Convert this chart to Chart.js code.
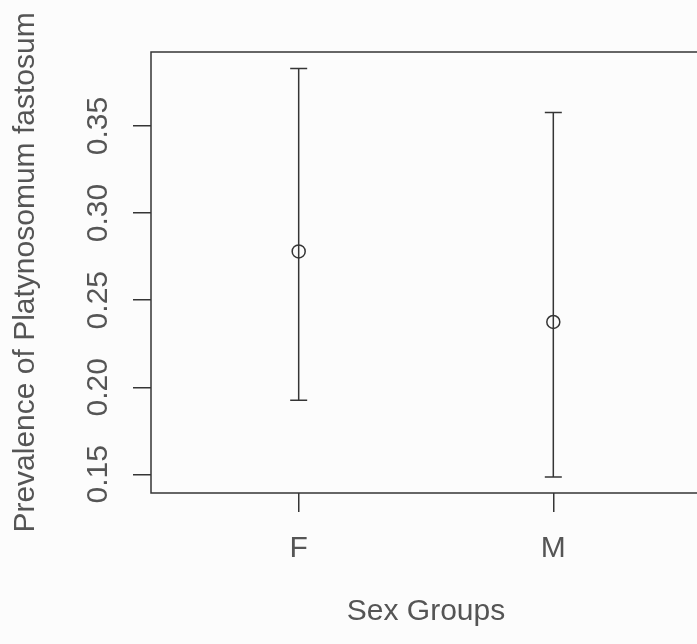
<!DOCTYPE html>
<html>
<head>
<meta charset="utf-8">
<script src="https://cdn.jsdelivr.net/npm/chart.js@4"></script>
<style>
  html, body { margin: 0; padding: 0; background: #fcfcfc; overflow: hidden; }
  #plot { display: block; }
</style>
</head>
<body>
<canvas id="plot" width="710" height="644"></canvas>
<script>
// Prevalence with confidence interval per sex group
const categories = ["F", "M"];
const means = [0.278, 0.2375];
const lower = [0.1925, 0.1485];
const upper = [0.383, 0.3577];
const yTicks = [0.15, 0.20, 0.25, 0.30, 0.35];

const ink = "#353535";
const textInk = "#555555";
const font = { family: "'Liberation Sans', Arial, sans-serif", size: 30 };

// whiskers and the closed plot box (R style)
const errorBars = {
    id: "errorBars",
    beforeDatasetsDraw(chart) {
        const { ctx, scales: { x, y } } = chart;
        ctx.save();
        ctx.strokeStyle = ink;
        ctx.lineWidth = 1.5;
        categories.forEach((c, i) => {
            const px = x.getPixelForValue(i + 1);
            const top = y.getPixelForValue(upper[i]);
            const bot = y.getPixelForValue(lower[i]);
            ctx.beginPath();
            ctx.moveTo(px, top);
            ctx.lineTo(px, bot);
            ctx.moveTo(px - 8.5, top);
            ctx.lineTo(px + 8.5, top);
            ctx.moveTo(px - 8.5, bot);
            ctx.lineTo(px + 8.5, bot);
            ctx.stroke();
        });
        ctx.restore();
    },
    afterDraw(chart) {
        const { ctx, chartArea: a } = chart;
        ctx.save();
        ctx.strokeStyle = ink;
        ctx.lineWidth = 1.5;
        ctx.strokeRect(a.left, a.top, a.right - a.left, a.bottom - a.top);
        ctx.restore();
    }
};

new Chart(document.getElementById("plot"), {
    type: "scatter",
    data: {
        datasets: [{
            data: means.map((m, i) => ({ x: i + 1, y: m })),
            pointRadius: 6.5,
            pointBorderWidth: 1.5,
            borderColor: ink,
            backgroundColor: "rgba(0,0,0,0)"
        }]
    },
    options: {
        responsive: false,
        animation: false,
        layout: { padding: { top: 52, right: 9, left: 0, bottom: 0 } },
        plugins: { legend: { display: false }, tooltip: { enabled: false } },
        scales: {
            x: {
                type: "linear",
                min: 0.42,
                max: 2.58,
                afterFit(s) { s.height = 151; },
                afterBuildTicks(s) { s.ticks = categories.map((c, i) => ({ value: i + 1 })); },
                border: { display: false },
                grid: { drawOnChartArea: false, drawTicks: true, tickLength: 19, color: ink, lineWidth: 1.5 },
                ticks: {
                    color: textInk, font: font, padding: 19, maxRotation: 0,
                    callback: v => categories[v - 1]
                },
                title: { display: true, text: "Sex Groups", color: textInk, font: font, padding: { top: 0, bottom: 14 } }
            },
            y: {
                min: 0.1393,
                max: 0.3925,
                afterFit(s) { s.width = 151; },
                afterBuildTicks(s) { s.ticks = yTicks.map(v => ({ value: v })); },
                border: { display: false },
                grid: { drawOnChartArea: false, drawTicks: true, tickLength: 18, color: ink, lineWidth: 1.5 },
                ticks: {
                    color: textInk, font: font, padding: 5,
                    minRotation: 90, maxRotation: 90, crossAlign: "center",
                    callback: v => v.toFixed(2)
                },
                title: {
                    display: true, text: "Prevalence of Platynosomum fastosum",
                    color: textInk, font: font, padding: { top: 8, bottom: 0 }
                }
            }
        }
    },
    plugins: [errorBars]
});
</script>
</body>
</html>
